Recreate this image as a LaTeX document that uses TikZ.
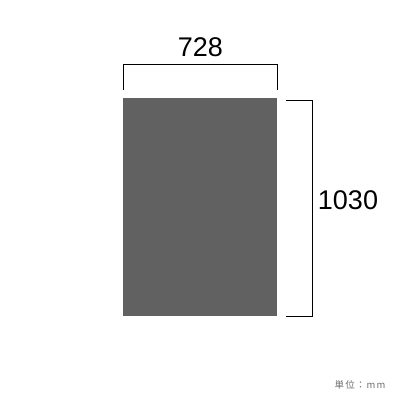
\documentclass[tikz,border=0pt]{standalone}
\usepackage{fontspec}
\setmainfont{Liberation Sans}
\newfontfamily\cjk[LetterSpace=12]{Noto Sans CJK JP}
\usetikzlibrary{positioning}
\definecolor{panelgray}{RGB}{97,97,97}
\definecolor{unitgray}{RGB}{110,110,110}

\begin{document}
\begin{tikzpicture}[x=1pt,y=-1pt,font=\fontsize{27}{30}\selectfont,inner sep=0pt]
      \useasboundingbox (0,0) rectangle (400,400);

    % panel
      \node[rectangle,fill=panelgray,minimum width=154pt,minimum height=218pt] (panel) at (200,207) {};

    % width bracket
      \coordinate (wl) at (123,90);
      \coordinate (wr) at (277,90);
      \draw[line width=1pt] (wl) -- ++(0,-26) -| (wr);
      \node (width) at (200.5,47) {728};

    % height bracket
      \coordinate (ht) at (286,100);
      \coordinate (hb) at (286,316);
      \draw[line width=1pt] (ht) -- ++(26,0) |- (hb);
      \node (height) at (348,200) {1030};

    % unit
      \node[text=unitgray,font=\cjk\fontsize{9.5}{11}\selectfont] (unit) at (360,385) {単位：mm};

    \end{tikzpicture}
\end{document}
